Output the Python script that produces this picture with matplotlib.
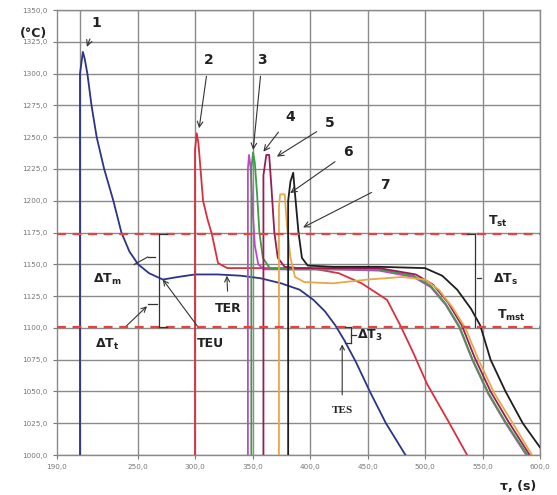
import matplotlib
matplotlib.use("Agg")
import matplotlib.pyplot as plt

# ---------------- data ----------------
t1 = [200, 200, 202.5, 204, 206.4, 210, 214.5, 221, 229, 236, 243, 250.5, 260, 272, 285, 300, 320, 340, 357, 375, 391, 403, 413, 422, 430, 440, 452, 466, 483]
T1 = [1000, 1300, 1317, 1312, 1300, 1275, 1250, 1225, 1200, 1175, 1160, 1150, 1143, 1138, 1140, 1142, 1142, 1141, 1139, 1135, 1130, 1122, 1113, 1102, 1090, 1073, 1050, 1025, 1000]

t2 = [300, 300, 301.5, 303, 307, 311, 314.6, 320, 328, 345, 380, 400, 425, 445, 467, 478.5, 490, 501.7, 520, 536.6]
T2 = [1000, 1240, 1253, 1245, 1200, 1185, 1174, 1151, 1147, 1147, 1147, 1147, 1143, 1135, 1122, 1102, 1080, 1056, 1027, 1000]

t3 = [346, 346, 347, 348.5, 350, 352, 355, 360, 380, 420, 460, 490, 505, 518, 530, 541, 555, 570, 588]
T3 = [1000, 1225, 1236, 1225, 1195, 1165, 1150, 1146, 1146, 1146, 1145, 1140, 1132, 1118, 1100, 1075, 1048, 1025, 1000]

t4 = [349, 349, 350.5, 352, 354, 356, 359, 365, 380, 420, 460, 490, 505, 518, 530, 541, 555, 570, 589]
T4 = [1000, 1225, 1238, 1230, 1205, 1175, 1155, 1147, 1146, 1146, 1146, 1141, 1133, 1119, 1101, 1076, 1049, 1026, 1000]

t5 = [359.5, 359.5, 362, 364.5, 366.5, 369, 372, 378, 390, 420, 460, 492, 507, 520, 532, 543, 557, 572, 591]
T5 = [1000, 1220, 1236, 1236, 1210, 1175, 1155, 1148, 1147, 1147, 1147, 1142, 1134, 1120, 1102, 1077, 1050, 1027, 1000]

t6 = [373, 373, 374, 378, 380, 383, 387, 395, 420, 450, 480, 500, 512, 524, 535, 546, 560, 575, 593]
T6 = [1000, 1195, 1205, 1205, 1180, 1155, 1140, 1136, 1135, 1138, 1140, 1138, 1130, 1116, 1100, 1076, 1049, 1027, 1000]

t7 = [381, 381, 383, 385.4, 387, 390, 393, 398, 420, 460, 500, 515, 528, 540, 548, 557, 570, 585, 600]
T7 = [1000, 1200, 1215, 1222, 1205, 1175, 1155, 1149, 1148, 1148, 1147, 1141, 1130, 1115, 1102, 1075, 1050, 1025, 1006]

series_colors = ["#2b3488", "#d9303f", "#c048c8", "#3c9e44", "#9b1b55", "#e9a64a", "#1e1e1e"]
curve_labels = ["1", "2", "3", "4", "5", "6", "7"]
label_xy = [(214, 1340), (312, 1311), (358.4, 1311), (382.8, 1266), (417.6, 1261), (433.3, 1238), (465.5, 1212)]
arrow_tip = [(206, 1321), (303.6, 1257), (350.6, 1240), (359.5, 1238.6), (371.2, 1234.7), (382.8, 1206), (394, 1179)]

T_st = 1174
T_mst = 1101

y_ticks = [1000, 1025, 1050, 1075, 1100, 1125, 1150, 1175, 1200, 1225, 1250, 1275, 1300, 1325, 1350]
x_ticks = [180, 250, 300, 350, 400, 450, 500, 550, 600]
x_tick_labels = ["190,0", "250,0", "300,0", "350,0", "400,0", "450,0", "500,0", "550,0", "600,0"]
x_grid = [200, 250, 300, 350, 400, 450, 500, 550, 600]

# ---------------- figure ----------------
fig = plt.figure(figsize=(5.57, 4.95), dpi=100)
ax = fig.add_axes([57/557, 1-455/495, (540-57)/557, (455-10)/495])
ax.set_xlim(180, 600)
ax.set_ylim(1000, 1350)

for xg in x_grid:
    ax.axvline(xg, color="#8a8a8a", lw=1.0, zorder=0)
for yg in y_ticks:
    ax.axhline(yg, color="#8a8a8a", lw=1.0, zorder=0)

series = [(t1, T1), (t2, T2), (t3, T3), (t4, T4), (t5, T5), (t6, T6), (t7, T7)]
for (tt, TT), c in zip(series, series_colors):
    ax.plot(tt, TT, color=c, lw=1.3, zorder=3)

ax.axhline(T_st, color="#e8413f", lw=1.6, ls=(0, (4, 3)), zorder=4)
ax.axhline(T_mst, color="#e8413f", lw=1.6, ls=(0, (4, 3)), zorder=4)

ax.set_yticks(y_ticks)
ax.set_yticklabels([f"{v},0" for v in y_ticks])
ax.set_xticks(x_ticks)
ax.set_xticklabels(x_tick_labels)
ax.tick_params(labelsize=5.2, colors="#777777", length=3, width=0.8)
for s in ax.spines.values():
    s.set_color("#8a8a8a")
    s.set_linewidth(1.0)

# curve number labels
for lab, (lx, ly), (ax_, ay_) in zip(curve_labels, label_xy, arrow_tip):
    ax.annotate(lab, xy=(ax_, ay_), xytext=(lx, ly), ha="center", va="center",
                fontsize=10, fontweight="bold", color="#222222",
                arrowprops=dict(arrowstyle="->", color="#333333", lw=0.8, shrinkA=5, shrinkB=0),
                zorder=6)

# left bracket (ΔTm, ΔTt)
bx = 268.8
ax.plot([bx, bx], [T_st, T_mst], color="#333333", lw=0.9, zorder=5)
ax.plot([bx, bx + 6.5], [T_st, T_st], color="#333333", lw=0.9, zorder=5)
ax.plot([bx, bx + 6.5], [T_mst, T_mst], color="#333333", lw=0.9, zorder=5)
ax.plot([259, 265], [1155.8, 1155.8], color="#333333", lw=0.9, zorder=5)
ax.plot([259, 267], [1118.8, 1118.8], color="#333333", lw=0.9, zorder=5)
ax.annotate(r"$\mathbf{\Delta T_m}$", xy=(259, 1155.8), xytext=(223.5, 1138), ha="center", va="center",
            fontsize=9, color="#222222",
            arrowprops=dict(arrowstyle="-", color="#333333", lw=0.8, shrinkA=8, shrinkB=0))
ax.annotate(r"$\mathbf{\Delta T_t}$", xy=(258.3, 1117), xytext=(223.5, 1087), ha="center", va="center",
            fontsize=9, color="#222222",
            arrowprops=dict(arrowstyle="->", color="#333333", lw=0.8, shrinkA=8, shrinkB=0))

ax.annotate("TEU", xy=(272, 1138), xytext=(313, 1088), ha="center", va="center",
            fontsize=9, fontweight="bold", color="#222222",
            arrowprops=dict(arrowstyle="->", color="#333333", lw=0.8, shrinkA=6, shrinkB=0))
ax.annotate("TER", xy=(327.7, 1141), xytext=(329, 1115), ha="center", va="center",
            fontsize=9, fontweight="bold", color="#222222",
            arrowprops=dict(arrowstyle="->", color="#333333", lw=0.8, shrinkA=6, shrinkB=0))
ax.annotate("TES", xy=(428, 1087), xytext=(428, 1035), ha="center", va="center",
            fontsize=8, fontweight="bold", family="Liberation Serif", color="#222222",
            arrowprops=dict(arrowstyle="->", color="#333333", lw=0.8, shrinkA=6, shrinkB=0))

# ΔT3 small bracket
ax.plot([436, 436], [T_mst, 1088], color="#333333", lw=0.9, zorder=5)
ax.plot([430.5, 436], [T_mst, T_mst], color="#333333", lw=0.9, zorder=5)
ax.plot([430.5, 436], [1088, 1088], color="#333333", lw=0.9, zorder=5)
ax.plot([436, 440], [1094, 1094], color="#333333", lw=0.9, zorder=5)
ax.text(441, 1094, r"$\mathbf{\Delta T_3}$", fontsize=9, color="#222222", va="center", ha="left")

# right bracket ΔTs
rbx = 543.6
ax.plot([rbx, rbx], [T_st, T_mst], color="#333333", lw=0.9, zorder=5)
ax.plot([rbx - 7.5, rbx], [T_st, T_st], color="#333333", lw=0.9, zorder=5)
ax.plot([rbx + 1.5, rbx + 5.5], [1139, 1139], color="#333333", lw=0.9, zorder=5)
ax.text(559, 1138, r"$\mathbf{\Delta T_s}$", fontsize=9, color="#222222", va="center", ha="left")
ax.text(555, 1184, r"$\mathbf{T_{st}}$", fontsize=9, color="#222222", va="center", ha="left")
ax.text(563, 1110, r"$\mathbf{T_{mst}}$", fontsize=9, color="#222222", va="center", ha="left")

fig.text(20/557, 1-33/495, "(°C)", fontsize=9, fontweight="bold", color="#222222", va="center", ha="left")
fig.text(518/557, 1-486/495, "τ, (s)", fontsize=9, fontweight="bold", color="#222222", va="center", ha="center")

fig.savefig("out.png", dpi=100)
